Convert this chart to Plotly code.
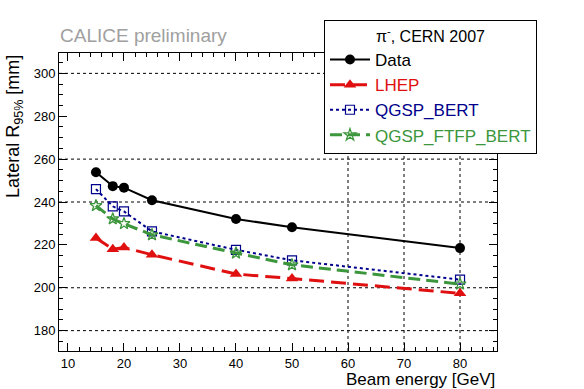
import plotly.graph_objects as go

# beam energies [GeV]
energy = [15, 18, 20, 25, 40, 50, 80]

# lateral R95% [mm]
data_r95 = [253.9, 247.4, 246.7, 240.8, 232.1, 228.2, 218.5]
lhep_r95 = [223.2, 218.0, 218.8, 215.4, 206.4, 204.3, 197.4]
qgsp_bert_r95 = [246.0, 238.0, 235.6, 226.3, 217.7, 212.8, 203.8]
qgsp_ftfp_bert_r95 = [238.3, 232.1, 229.9, 224.7, 216.2, 210.7, 201.7]

# only these grid lines show up in the original
x_grid = [60, 70, 80]
y_grid = [180, 200, 240, 260, 300]

FONT = "Liberation Sans, Arial, sans-serif"
RED = "#e01010"
BLUE = "#00008c"
GREEN = "#3c963c"

fig = go.Figure()

fig.add_trace(go.Scatter(
    x=energy, y=data_r95, name="Data", mode="lines+markers",
    line=dict(color="black", width=2),
    marker=dict(symbol="circle", size=10, color="black"),
))
fig.add_trace(go.Scatter(
    x=energy, y=lhep_r95, name=f"<span style='color:{RED}'>LHEP</span>",
    mode="lines+markers",
    line=dict(color=RED, width=3, dash="15px,7px"),
    marker=dict(symbol="triangle-up", size=11, color=RED),
))
fig.add_trace(go.Scatter(
    x=energy, y=qgsp_bert_r95, name=f"<span style='color:{BLUE}'>QGSP_BERT</span>",
    mode="lines+markers",
    line=dict(color=BLUE, width=2, dash="dot"),
    marker=dict(symbol="square-open", size=9, color=BLUE, line=dict(width=1.2)),
))
fig.add_trace(go.Scatter(
    x=energy, y=qgsp_ftfp_bert_r95,
    name=f"<span style='color:{GREEN}'>QGSP_FTFP_BERT</span>",
    mode="lines+markers",
    line=dict(color=GREEN, width=3, dash="12px,6px"),
    marker=dict(symbol="star-open", size=9, color=GREEN, line=dict(width=1.3)),
))

for gx in x_grid:
    fig.add_shape(type="line", xref="x", yref="paper", x0=gx, x1=gx, y0=0, y1=1,
                  line=dict(color="black", width=1, dash="dot"), layer="below")
for gy in y_grid:
    fig.add_shape(type="line", xref="paper", yref="y", x0=0, x1=1, y0=gy, y1=gy,
                  line=dict(color="black", width=1, dash="dot"), layer="below")

axis_common = dict(
    showgrid=False, zeroline=False, showline=True, linecolor="black", linewidth=1,
    mirror="ticks", ticks="inside", ticklen=8, tickcolor="black",
    tickfont=dict(family=FONT, size=13, color="black"),
)
fig.update_xaxes(range=[8.4, 86.6], dtick=10,
                 minor=dict(dtick=2, ticks="inside", ticklen=4, tickcolor="black"),
                 **axis_common)
fig.update_yaxes(range=[170.5, 309.5], dtick=20,
                 minor=dict(dtick=5, ticks="inside", ticklen=4, tickcolor="black"),
                 **axis_common)

fig.add_annotation(text="CALICE preliminary", xref="paper", yref="paper",
                   x=-0.003, y=1.06, xanchor="left", yanchor="middle", showarrow=False,
                   font=dict(family=FONT, size=19, color="#a0a0a0"))
fig.add_annotation(text="Beam energy [GeV]", xref="paper", yref="paper",
                   x=1.0, y=-0.095, xanchor="right", yanchor="middle", showarrow=False,
                   font=dict(family=FONT, size=17, color="black"))
fig.add_annotation(text="Lateral R<sub>95%</sub> [mm]", xref="paper", yref="paper",
                   x=-0.103, y=0.755, xanchor="center", yanchor="middle", textangle=-90,
                   showarrow=False, font=dict(family=FONT, size=18, color="black"))

fig.update_layout(
    width=584, height=389,
    margin=dict(l=59, r=87, t=53, b=38, autoexpand=False),
    paper_bgcolor="white", plot_bgcolor="white",
    font=dict(family=FONT, size=15, color="black"),
    showlegend=True,
    legend=dict(
        x=0.605, y=1.11, xanchor="left", yanchor="top",
        bgcolor="white", bordercolor="black", borderwidth=1,
        font=dict(family=FONT, size=17, color="black"),
        title=dict(text="π<sup>-</sup>, CERN 2007", side="top center",
                   font=dict(family=FONT, size=16, color="black")),
        tracegroupgap=0, itemwidth=40,
    ),
)

# drop the browser's default body margin so the figure sits at the page corner
fig.write_html("out.html", config={"displayModeBar": False},
               post_script="document.body.style.margin='0';")
